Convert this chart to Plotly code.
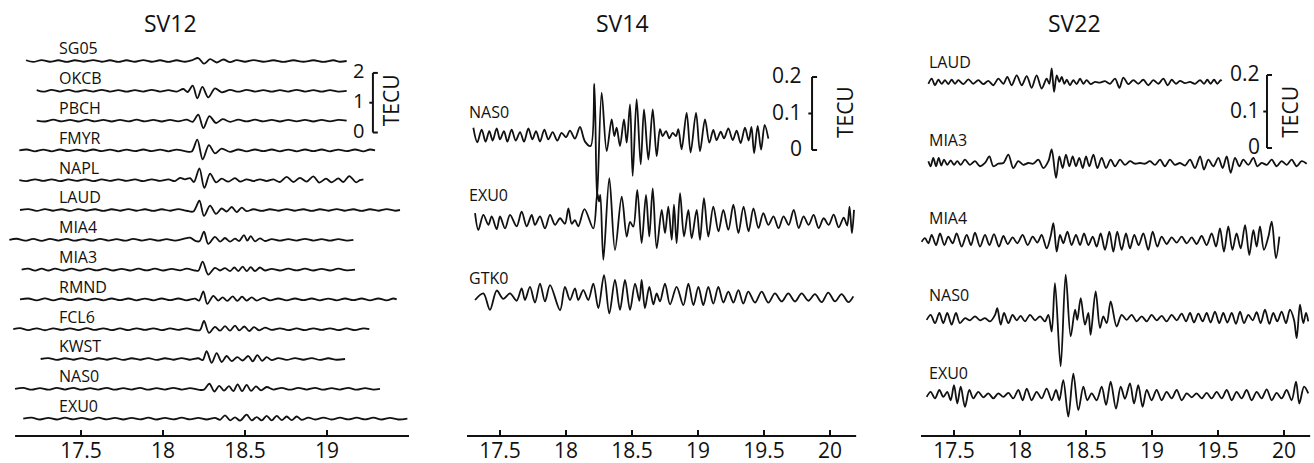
import plotly.graph_objects as go

# ---------------- SV12 : dTEC per station (TECU, relative to station baseline) ----------------
sv12_stations = ["SG05", "OKCB", "PBCH", "FMYR", "NAPL", "LAUD", "MIA4",
                 "MIA3", "RMND", "FCL6", "KWST", "NAS0", "EXU0"]

sv12_sg05_t = [17.165, 17.209, 17.260, 17.311, 17.362, 17.413, 17.463, 17.514, 17.575, 17.626,
               17.677, 17.728, 17.778, 17.829, 17.880, 17.931, 17.982, 18.033, 18.083, 18.134,
               18.175, 18.215, 18.250, 18.287, 18.327, 18.368, 18.409, 18.449, 18.500, 18.551,
               18.612, 18.673, 18.734, 18.795, 18.856, 18.917, 18.978, 19.039, 19.079, 19.120]
sv12_sg05_v = [0.025, -0.03, 0.03, -0.025, 0.025, -0.03, 0.025, -0.025, 0.03, -0.025,
               0.025, -0.03, 0.025, -0.025, 0.03, -0.025, 0.025, -0.03, 0.025, -0.025,
               0.02, 0.10, -0.09, 0.06, -0.05, 0.05, -0.04, 0.03, -0.025, 0.03,
               -0.025, 0.025, -0.03, 0.025, -0.025, 0.025, -0.03, 0.025, -0.025, 0.00]

sv12_okcb_t = [17.230, 17.270, 17.321, 17.372, 17.423, 17.474, 17.524, 17.575, 17.626, 17.677,
               17.728, 17.778, 17.829, 17.880, 17.931, 17.982, 18.033, 18.083, 18.124, 18.150,
               18.181, 18.209, 18.240, 18.276, 18.317, 18.358, 18.409, 18.459, 18.510, 18.561,
               18.612, 18.663, 18.713, 18.764, 18.815, 18.866, 18.917, 18.967, 19.018, 19.069, 19.120]
sv12_okcb_v = [0.025, -0.03, 0.03, -0.025, 0.03, -0.03, 0.025, -0.025, 0.03, -0.025,
               0.025, -0.03, 0.025, -0.025, 0.03, -0.025, 0.025, -0.025, 0.06, -0.04,
               0.17, -0.25, 0.13, -0.22, 0.08, -0.05, 0.03, -0.03, 0.03, -0.025,
               0.025, -0.03, 0.025, -0.025, 0.03, -0.025, 0.025, -0.03, 0.025, -0.025, 0.00]

sv12_pbch_t = [17.230, 17.280, 17.331, 17.382, 17.433, 17.484, 17.535, 17.585, 17.636, 17.687,
               17.738, 17.789, 17.839, 17.890, 17.941, 17.992, 18.043, 18.093, 18.144, 18.181,
               18.215, 18.246, 18.283, 18.323, 18.364, 18.409, 18.459, 18.510, 18.561, 18.612,
               18.663, 18.713, 18.764, 18.815, 18.866, 18.917, 18.967, 19.018, 19.069, 19.120]
sv12_pbch_v = [0.00, -0.03, 0.03, -0.025, 0.025, -0.03, 0.03, -0.025, 0.025, -0.03,
               0.025, -0.025, 0.03, -0.025, 0.025, -0.03, 0.025, -0.025, 0.03, -0.04,
               0.20, -0.25, 0.15, -0.08, 0.05, -0.04, 0.03, -0.025, 0.03, -0.025,
               0.025, -0.03, 0.025, -0.025, 0.025, -0.03, 0.025, -0.025, 0.025, 0.00]

sv12_fmyr_t = [17.124, 17.169, 17.220, 17.270, 17.321, 17.372, 17.423, 17.474, 17.524, 17.575,
               17.626, 17.677, 17.728, 17.778, 17.829, 17.880, 17.931, 17.982, 18.033, 18.083,
               18.134, 18.175, 18.209, 18.242, 18.280, 18.317, 18.358, 18.409, 18.459, 18.510,
               18.561, 18.612, 18.663, 18.713, 18.764, 18.815, 18.866, 18.917, 18.967, 19.018,
               19.069, 19.120, 19.171, 19.222, 19.262, 19.293]
sv12_fmyr_v = [0.00, 0.03, -0.03, 0.025, -0.03, 0.03, -0.025, 0.025, -0.03, 0.03,
               -0.025, 0.025, -0.03, 0.025, -0.025, 0.03, -0.025, 0.025, -0.03, 0.025,
               -0.025, -0.04, 0.36, -0.30, 0.18, -0.10, 0.06, -0.05, 0.03, -0.03,
               0.03, -0.025, 0.03, -0.03, 0.025, -0.03, 0.03, -0.025, 0.03, -0.03,
               0.025, -0.025, 0.03, -0.03, 0.03, 0.00]

sv12_napl_t = [17.124, 17.169, 17.220, 17.270, 17.321, 17.372, 17.423, 17.474, 17.524, 17.575,
               17.626, 17.677, 17.728, 17.778, 17.829, 17.880, 17.931, 17.982, 18.033, 18.073,
               18.104, 18.134, 18.165, 18.189, 18.222, 18.252, 18.287, 18.323, 18.358, 18.398,
               18.439, 18.470, 18.510, 18.551, 18.591, 18.632, 18.673, 18.713, 18.754, 18.795,
               18.835, 18.876, 18.917, 18.953, 18.994, 19.028, 19.069, 19.100, 19.136, 19.177,
               19.201, 19.222]
sv12_napl_v = [0.00, -0.03, 0.03, -0.025, 0.03, -0.03, 0.025, -0.025, 0.03, -0.03,
               0.025, -0.025, 0.03, -0.025, 0.025, -0.03, 0.03, -0.025, 0.025, -0.03,
               0.08, 0.03, 0.07, -0.06, 0.40, -0.26, 0.22, -0.07, 0.05, -0.05,
               0.07, -0.05, 0.03, -0.03, 0.03, -0.03, 0.03, -0.06, 0.11, -0.06,
               0.08, -0.05, 0.13, -0.08, 0.05, -0.07, 0.06, -0.06, 0.14, -0.07,
               0.00, 0.03]

sv12_laud_t = [17.128, 17.179, 17.230, 17.280, 17.331, 17.382, 17.433, 17.484, 17.535, 17.585,
               17.636, 17.687, 17.738, 17.789, 17.839, 17.890, 17.941, 17.992, 18.043, 18.093,
               18.144, 18.185, 18.222, 18.250, 18.287, 18.323, 18.358, 18.388, 18.419, 18.449,
               18.480, 18.510, 18.551, 18.602, 18.652, 18.703, 18.754, 18.805, 18.856, 18.907,
               18.957, 19.008, 19.059, 19.110, 19.161, 19.211, 19.262, 19.313, 19.364, 19.415, 19.445]
sv12_laud_v = [0.00, 0.03, -0.03, 0.03, -0.025, 0.025, -0.03, 0.03, -0.025, 0.025,
               -0.03, 0.025, -0.025, 0.03, -0.025, 0.025, -0.03, 0.025, -0.025, 0.03,
               -0.025, -0.05, 0.31, -0.20, 0.15, -0.13, 0.05, -0.05, 0.10, -0.07,
               0.08, -0.04, 0.025, -0.03, 0.025, -0.025, 0.03, -0.025, 0.025, -0.03,
               0.025, -0.025, 0.03, -0.025, 0.025, -0.03, 0.025, -0.025, 0.03, -0.025, 0.00]

sv12_mia4_t = [17.063, 17.108, 17.159, 17.209, 17.260, 17.311, 17.362, 17.413, 17.463, 17.514,
               17.565, 17.616, 17.667, 17.717, 17.768, 17.819, 17.870, 17.921, 17.972, 18.022,
               18.073, 18.124, 18.165, 18.195, 18.222, 18.250, 18.276, 18.317, 18.348, 18.378,
               18.409, 18.439, 18.465, 18.494, 18.514, 18.535, 18.561, 18.591, 18.622, 18.663,
               18.713, 18.764, 18.815, 18.866, 18.917, 18.967, 19.018, 19.069, 19.120, 19.161]
sv12_mia4_v = [0.00, 0.035, -0.03, 0.03, -0.035, 0.03, -0.025, 0.03, -0.03, 0.025,
               -0.03, 0.03, -0.025, 0.025, -0.03, 0.03, -0.025, 0.025, -0.03, 0.025,
               -0.025, 0.03, 0.07, -0.03, -0.05, 0.27, -0.14, 0.10, -0.06, 0.06,
               -0.06, 0.04, -0.04, 0.16, -0.03, 0.12, -0.05, 0.05, -0.04, 0.025,
               -0.03, 0.025, -0.025, 0.03, -0.025, 0.025, -0.03, 0.025, -0.025, 0.00]

sv12_mia3_t = [17.138, 17.179, 17.220, 17.260, 17.301, 17.341, 17.392, 17.443, 17.494, 17.545,
               17.596, 17.646, 17.697, 17.748, 17.799, 17.850, 17.900, 17.951, 18.002, 18.053,
               18.104, 18.144, 18.195, 18.215, 18.242, 18.276, 18.317, 18.348, 18.378, 18.409,
               18.435, 18.459, 18.486, 18.510, 18.535, 18.561, 18.591, 18.622, 18.663, 18.713,
               18.764, 18.815, 18.866, 18.917, 18.967, 19.018, 19.069, 19.120, 19.171]
sv12_mia3_v = [0.00, 0.03, -0.035, 0.03, -0.03, 0.035, -0.03, 0.03, -0.03, 0.03,
               -0.025, 0.03, -0.03, 0.025, -0.03, 0.03, -0.025, 0.03, -0.03, 0.025,
               -0.025, 0.03, -0.03, -0.04, 0.27, -0.17, 0.06, -0.03, 0.05, -0.05,
               0.07, -0.05, 0.10, -0.05, 0.08, -0.05, 0.07, -0.03, 0.025, -0.03,
               0.03, -0.025, 0.03, -0.03, 0.025, -0.03, 0.03, -0.025, 0.00]

sv12_rmnd_t = [17.128, 17.179, 17.230, 17.280, 17.331, 17.382, 17.433, 17.484, 17.535, 17.585,
               17.636, 17.687, 17.738, 17.789, 17.839, 17.890, 17.941, 17.992, 18.043, 18.093,
               18.144, 18.195, 18.220, 18.246, 18.270, 18.307, 18.337, 18.364, 18.392, 18.425,
               18.453, 18.482, 18.510, 18.541, 18.571, 18.612, 18.652, 18.703, 18.754, 18.805,
               18.856, 18.907, 18.957, 19.008, 19.059, 19.110, 19.161, 19.211, 19.262, 19.313,
               19.364, 19.404, 19.425]
sv12_rmnd_v = [0.00, 0.03, -0.03, 0.035, -0.03, 0.03, -0.025, 0.03, -0.03, 0.025,
               -0.03, 0.03, -0.025, 0.03, -0.03, 0.025, -0.03, 0.03, -0.025, 0.03,
               -0.03, 0.025, -0.04, 0.27, -0.15, 0.12, -0.04, 0.07, -0.05, 0.10,
               -0.05, 0.09, -0.04, 0.07, -0.04, 0.05, -0.03, 0.03, -0.03, 0.03,
               -0.025, 0.03, -0.03, 0.025, -0.03, 0.03, -0.025, 0.03, -0.03, 0.03,
               -0.03, 0.03, 0.00]

sv12_fcl6_t = [17.087, 17.128, 17.179, 17.230, 17.280, 17.331, 17.382, 17.433, 17.484, 17.535,
               17.585, 17.636, 17.687, 17.738, 17.789, 17.839, 17.890, 17.941, 17.992, 18.043,
               18.093, 18.144, 18.195, 18.226, 18.250, 18.280, 18.317, 18.348, 18.378, 18.409,
               18.439, 18.465, 18.496, 18.526, 18.555, 18.587, 18.622, 18.663, 18.713, 18.764,
               18.815, 18.866, 18.917, 18.967, 19.018, 19.069, 19.120, 19.171, 19.222, 19.258]
sv12_fcl6_v = [0.00, 0.035, -0.03, 0.03, -0.035, 0.03, -0.025, 0.03, -0.03, 0.035,
               -0.025, 0.03, -0.03, 0.025, -0.03, 0.03, -0.025, 0.03, -0.03, 0.025,
               -0.025, 0.03, -0.03, -0.03, 0.28, -0.12, 0.08, -0.05, 0.10, -0.05,
               0.12, -0.04, 0.09, -0.06, 0.07, -0.04, 0.05, -0.025, 0.03, -0.03,
               0.025, -0.03, 0.03, -0.025, 0.03, -0.03, 0.025, -0.03, 0.03, 0.00]

sv12_kwst_t = [17.254, 17.301, 17.352, 17.402, 17.453, 17.504, 17.555, 17.606, 17.657, 17.707,
               17.758, 17.809, 17.860, 17.911, 17.961, 18.012, 18.063, 18.114, 18.165, 18.215,
               18.242, 18.266, 18.297, 18.327, 18.358, 18.388, 18.419, 18.453, 18.486, 18.520,
               18.547, 18.575, 18.604, 18.632, 18.663, 18.703, 18.754, 18.805, 18.856, 18.907,
               18.957, 19.008, 19.059, 19.110]
sv12_kwst_v = [0.00, 0.03, -0.03, 0.025, -0.025, 0.03, -0.03, 0.025, -0.025, 0.03,
               -0.03, 0.025, -0.025, 0.03, -0.03, 0.025, -0.025, 0.03, -0.025, 0.025,
               -0.04, 0.26, -0.13, 0.20, -0.10, 0.10, -0.07, 0.06, -0.05, 0.10,
               -0.08, 0.13, -0.06, 0.06, -0.04, 0.03, -0.03, 0.03, -0.025, 0.03,
               -0.03, 0.025, -0.025, 0.00]

sv12_nas0_t = [17.098, 17.148, 17.199, 17.250, 17.301, 17.352, 17.402, 17.453, 17.504, 17.555,
               17.606, 17.657, 17.707, 17.758, 17.809, 17.860, 17.911, 17.961, 18.012, 18.063,
               18.114, 18.165, 18.215, 18.250, 18.283, 18.313, 18.343, 18.372, 18.402, 18.429,
               18.455, 18.482, 18.510, 18.537, 18.567, 18.598, 18.632, 18.673, 18.724, 18.774,
               18.825, 18.876, 18.927, 18.978, 19.028, 19.079, 19.130, 19.181, 19.232, 19.283, 19.323]
sv12_nas0_v = [0.00, 0.03, -0.03, 0.025, -0.03, 0.03, -0.025, 0.03, -0.03, 0.025,
               -0.025, 0.03, -0.03, 0.025, -0.025, 0.03, -0.03, 0.025, -0.025, 0.03,
               -0.025, 0.025, -0.03, -0.03, 0.17, -0.09, 0.10, -0.06, 0.09, -0.08,
               0.15, -0.08, 0.13, -0.07, 0.08, -0.05, 0.06, -0.025, 0.03, -0.03,
               0.03, -0.025, 0.03, -0.03, 0.025, -0.025, 0.03, -0.03, 0.025, -0.025, 0.00]

sv12_exu0_t = [17.148, 17.199, 17.250, 17.301, 17.352, 17.402, 17.453, 17.504, 17.555, 17.606,
               17.657, 17.707, 17.758, 17.809, 17.860, 17.911, 17.961, 18.012, 18.063, 18.114,
               18.165, 18.215, 18.266, 18.317, 18.348, 18.378, 18.409, 18.439, 18.470, 18.510,
               18.541, 18.571, 18.602, 18.632, 18.663, 18.693, 18.724, 18.754, 18.785, 18.815,
               18.846, 18.886, 18.927, 18.978, 19.028, 19.079, 19.130, 19.181, 19.232, 19.283,
               19.333, 19.384, 19.435, 19.490]
sv12_exu0_v = [0.00, 0.03, -0.03, 0.025, -0.03, 0.03, -0.025, 0.025, -0.03, 0.03,
               -0.025, 0.025, -0.03, 0.025, -0.025, 0.03, -0.03, 0.025, -0.025, 0.03,
               -0.025, 0.025, -0.03, 0.025, -0.04, 0.11, -0.06, 0.04, -0.07, 0.13,
               -0.06, 0.05, -0.06, 0.09, -0.06, 0.09, -0.05, 0.07, -0.05, 0.07,
               -0.04, 0.035, -0.03, 0.035, -0.03, 0.03, -0.025, 0.03, -0.025, 0.03,
               -0.03, 0.025, -0.03, 0.00]

# ---------------- SV14 ----------------
sv14_stations = ["NAS0", "EXU0", "GTK0"]

sv14_nas0_t = [17.298, 17.328, 17.361, 17.391, 17.419, 17.444, 17.475, 17.500, 17.530, 17.556,
               17.588, 17.619, 17.652, 17.682, 17.715, 17.745, 17.773, 17.803, 17.836, 17.866,
               17.899, 17.934, 17.967, 18.000, 18.030, 18.068, 18.106, 18.144, 18.187, 18.215,
               18.235, 18.270, 18.308, 18.346, 18.366, 18.384, 18.409, 18.439, 18.460, 18.485,
               18.505, 18.535, 18.566, 18.591, 18.624, 18.657, 18.687, 18.712, 18.732, 18.758,
               18.783, 18.808, 18.833, 18.851, 18.876, 18.914, 18.944, 18.985, 19.015, 19.053,
               19.086, 19.116, 19.141, 19.172, 19.197, 19.230, 19.263, 19.293, 19.323, 19.356,
               19.384, 19.405, 19.425, 19.452, 19.478, 19.505, 19.533]
sv14_nas0_v = [0.020, -0.020, 0.015, -0.018, 0.011, -0.015, 0.018, -0.012, 0.011, -0.018,
               0.015, -0.015, 0.008, -0.018, 0.018, -0.012, 0.011, -0.018, 0.015, -0.012,
               0.008, -0.015, 0.006, -0.006, 0.012, -0.010, 0.022, -0.018, -0.030, 0.140,
               -0.175, 0.116, -0.044, 0.043, -0.003, 0.020, -0.030, 0.043, -0.021, 0.084,
               -0.112, 0.098, -0.080, 0.070, -0.067, 0.070, -0.058, 0.016, -0.003, 0.011,
               -0.009, 0.006, -0.003, 0.016, -0.039, 0.061, -0.048, 0.061, -0.044, 0.043,
               -0.021, 0.014, -0.014, 0.009, -0.009, 0.018, -0.014, 0.012, -0.022, 0.020,
               -0.015, 0.022, -0.050, 0.025, -0.040, 0.028, -0.010]

sv14_exu0_t = [17.311, 17.336, 17.374, 17.412, 17.437, 17.475, 17.500, 17.538, 17.576, 17.626,
               17.664, 17.702, 17.740, 17.765, 17.803, 17.841, 17.879, 17.917, 17.955, 17.992,
               18.018, 18.043, 18.068, 18.093, 18.140, 18.207, 18.237, 18.250, 18.260, 18.283,
               18.328, 18.371, 18.422, 18.460, 18.485, 18.510, 18.540, 18.573, 18.606, 18.631,
               18.657, 18.687, 18.725, 18.750, 18.775, 18.801, 18.818, 18.838, 18.864, 18.894,
               18.927, 18.952, 18.990, 19.015, 19.045, 19.078, 19.116, 19.155, 19.192, 19.230,
               19.268, 19.306, 19.345, 19.383, 19.420, 19.458, 19.495, 19.533, 19.572, 19.610,
               19.648, 19.687, 19.725, 19.763, 19.800, 19.838, 19.876, 19.914, 19.952, 19.990,
               20.028, 20.066, 20.104, 20.130, 20.148, 20.166, 20.182]
sv14_exu0_v = [0.024, -0.022, 0.019, -0.008, 0.015, -0.020, 0.015, -0.018, 0.019, -0.012,
               0.028, -0.012, 0.019, -0.008, 0.015, -0.018, 0.019, -0.008, 0.010, -0.005,
               0.037, -0.005, 0.005, -0.012, 0.035, -0.018, 0.079, 0.056, 0.074, -0.104,
               0.120, -0.077, 0.069, -0.040, 0.000, -0.013, 0.088, -0.058, 0.074, -0.040,
               0.092, -0.072, 0.033, -0.031, 0.042, -0.049, 0.047, -0.058, 0.079, -0.040,
               0.033, -0.045, 0.033, -0.049, 0.065, -0.040, 0.042, -0.026, 0.033, -0.022,
               0.047, -0.031, 0.042, -0.026, 0.037, -0.017, 0.024, -0.008, 0.015, -0.017,
               0.015, -0.008, 0.033, -0.017, 0.015, -0.008, 0.019, -0.017, 0.010, -0.008,
               0.020, -0.015, 0.012, -0.010, 0.042, -0.031, 0.033]

sv14_gtk0_t = [17.311, 17.374, 17.424, 17.475, 17.525, 17.576, 17.626, 17.664, 17.689, 17.727,
               17.765, 17.803, 17.841, 17.879, 17.955, 17.992, 18.030, 18.068, 18.093, 18.131,
               18.169, 18.207, 18.245, 18.288, 18.328, 18.371, 18.409, 18.447, 18.485, 18.523,
               18.556, 18.573, 18.598, 18.631, 18.662, 18.687, 18.712, 18.750, 18.788, 18.838,
               18.889, 18.927, 18.965, 19.003, 19.040, 19.078, 19.116, 19.154, 19.192, 19.230,
               19.268, 19.306, 19.343, 19.381, 19.432, 19.482, 19.533, 19.583, 19.634, 19.684,
               19.735, 19.785, 19.836, 19.886, 19.937, 19.987, 20.038, 20.088, 20.139, 20.177]
sv14_gtk0_v = [-0.008, 0.010, -0.035, 0.018, -0.005, 0.010, -0.010, 0.024, -0.008, 0.028,
               -0.015, 0.037, -0.012, 0.033, -0.036, 0.028, -0.008, 0.024, -0.008, 0.019,
               -0.008, 0.037, -0.030, 0.060, -0.045, 0.047, -0.035, 0.047, -0.035, 0.037,
               -0.010, 0.047, -0.030, 0.028, -0.020, 0.010, -0.012, 0.037, -0.020, 0.028,
               -0.022, 0.037, -0.022, 0.028, -0.022, 0.028, -0.018, 0.028, -0.015, 0.015,
               -0.015, 0.019, -0.018, 0.015, -0.015, 0.015, -0.015, 0.010, -0.012, 0.010,
               -0.012, 0.010, -0.010, 0.008, -0.014, 0.012, -0.012, 0.008, -0.014, 0.002]

# ---------------- SV22 ----------------
sv22_stations = ["LAUD", "MIA3", "MIA4", "NAS0", "EXU0"]

sv22_laud_t = [17.306, 17.331, 17.356, 17.381, 17.407, 17.432, 17.457, 17.482, 17.508, 17.533,
               17.571, 17.609, 17.646, 17.684, 17.722, 17.760, 17.798, 17.836, 17.874, 17.904,
               17.937, 17.975, 18.013, 18.051, 18.088, 18.126, 18.164, 18.202, 18.222, 18.240,
               18.258, 18.278, 18.298, 18.316, 18.336, 18.354, 18.379, 18.404, 18.429, 18.455,
               18.480, 18.505, 18.535, 18.568, 18.606, 18.644, 18.682, 18.720, 18.753, 18.783,
               18.821, 18.859, 18.896, 18.934, 18.972, 19.010, 19.048, 19.086, 19.119, 19.149,
               19.182, 19.212, 19.250, 19.288, 19.326, 19.364, 19.394, 19.419, 19.444, 19.470,
               19.495, 19.520, 19.528]
sv22_laud_v = [-0.005, 0.009, -0.009, 0.006, -0.005, 0.005, -0.006, 0.006, -0.005, 0.005,
               -0.006, 0.007, -0.005, 0.005, -0.006, 0.003, -0.009, 0.009, -0.005, 0.014,
               -0.009, 0.018, -0.009, 0.016, -0.016, 0.018, -0.018, 0.009, -0.005, 0.037,
               -0.027, 0.018, 0.000, 0.014, -0.005, 0.006, -0.009, 0.005, -0.006, 0.009,
               -0.005, 0.005, -0.006, 0.000, -0.002, 0.002, -0.005, 0.009, -0.016, 0.012,
               -0.006, 0.005, -0.005, 0.006, -0.009, 0.005, -0.005, 0.009, -0.009, 0.006,
               -0.005, 0.003, -0.003, 0.000, -0.005, 0.005, -0.005, 0.006, -0.005, 0.006,
               -0.005, 0.005, 0.003]

sv22_mia3_t = [17.306, 17.323, 17.343, 17.364, 17.384, 17.404, 17.424, 17.449, 17.475, 17.500,
               17.525, 17.551, 17.583, 17.621, 17.659, 17.697, 17.735, 17.768, 17.798, 17.836,
               17.874, 17.912, 17.949, 17.987, 18.025, 18.063, 18.101, 18.139, 18.177, 18.215,
               18.240, 18.273, 18.298, 18.323, 18.348, 18.374, 18.399, 18.424, 18.449, 18.475,
               18.500, 18.525, 18.556, 18.586, 18.619, 18.652, 18.687, 18.720, 18.758, 18.795,
               18.833, 18.871, 18.909, 18.947, 18.985, 19.023, 19.061, 19.098, 19.136, 19.174,
               19.212, 19.250, 19.288, 19.326, 19.364, 19.394, 19.427, 19.465, 19.503, 19.535,
               19.566, 19.596, 19.629, 19.662, 19.692, 19.730, 19.768, 19.798, 19.831, 19.869,
               19.907, 19.944, 19.982, 20.020, 20.058, 20.096, 20.134, 20.172]
sv22_mia3_v = [0.005, -0.009, 0.014, -0.009, 0.014, -0.007, 0.009, -0.005, 0.007, -0.005,
               0.005, -0.005, 0.009, -0.005, 0.005, -0.009, 0.000, 0.018, -0.009, -0.002,
               0.000, 0.023, -0.014, 0.005, -0.005, 0.000, -0.002, 0.009, -0.014, 0.005,
               0.037, -0.041, 0.018, -0.014, 0.023, -0.009, 0.018, -0.009, 0.014, -0.014,
               0.018, -0.009, 0.023, -0.014, 0.014, -0.014, 0.009, -0.009, 0.009, -0.005,
               0.005, -0.002, 0.000, -0.002, 0.005, -0.005, 0.009, -0.009, 0.009, -0.005,
               0.000, -0.007, 0.009, -0.014, 0.018, -0.018, 0.009, -0.009, 0.014, -0.014,
               0.018, -0.027, 0.014, -0.009, 0.009, -0.005, 0.014, -0.009, 0.000, -0.005,
               0.009, -0.009, 0.005, -0.005, 0.009, -0.009, 0.005, -0.002]

sv22_mia4_t = [17.255, 17.280, 17.306, 17.331, 17.364, 17.394, 17.427, 17.457, 17.490, 17.520,
               17.558, 17.596, 17.629, 17.659, 17.697, 17.735, 17.768, 17.803, 17.841, 17.874,
               17.907, 17.944, 17.980, 18.020, 18.058, 18.096, 18.131, 18.164, 18.202, 18.232,
               18.253, 18.278, 18.303, 18.328, 18.359, 18.391, 18.424, 18.455, 18.485, 18.518,
               18.551, 18.581, 18.611, 18.644, 18.677, 18.707, 18.737, 18.770, 18.803, 18.833,
               18.866, 18.899, 18.934, 18.972, 19.005, 19.040, 19.073, 19.111, 19.149, 19.187,
               19.225, 19.263, 19.301, 19.338, 19.376, 19.414, 19.452, 19.485, 19.515, 19.545,
               19.578, 19.609, 19.641, 19.672, 19.705, 19.737, 19.768, 19.793, 19.818, 19.848,
               19.881, 19.907, 19.939, 19.965]
sv22_mia4_v = [-0.005, 0.005, -0.009, 0.014, -0.014, 0.018, -0.014, 0.009, -0.009, 0.018,
               -0.018, 0.014, -0.014, 0.020, -0.018, 0.014, -0.014, 0.016, -0.018, 0.011,
               -0.011, 0.007, -0.009, 0.014, -0.014, 0.009, -0.007, 0.014, -0.023, 0.010,
               0.046, -0.032, 0.014, -0.009, 0.023, -0.014, 0.014, -0.014, 0.018, -0.014,
               0.009, -0.018, 0.018, -0.027, 0.023, -0.032, 0.023, -0.027, 0.018, -0.023,
               0.014, -0.014, 0.018, -0.027, 0.023, -0.018, 0.009, -0.011, 0.007, -0.007,
               0.009, -0.009, 0.007, -0.011, 0.011, -0.014, 0.018, -0.018, 0.032, -0.032,
               0.037, -0.027, 0.018, -0.023, 0.041, -0.041, 0.027, -0.018, 0.037, -0.027,
               0.008, 0.050, -0.050, 0.009]

sv22_nas0_t = [17.293, 17.323, 17.356, 17.389, 17.419, 17.449, 17.482, 17.515, 17.545, 17.583,
               17.621, 17.659, 17.697, 17.735, 17.773, 17.811, 17.828, 17.854, 17.879, 17.912,
               17.944, 17.975, 18.005, 18.038, 18.076, 18.114, 18.152, 18.189, 18.215, 18.240,
               18.265, 18.308, 18.346, 18.384, 18.417, 18.434, 18.460, 18.492, 18.518, 18.535,
               18.573, 18.606, 18.631, 18.657, 18.687, 18.732, 18.770, 18.808, 18.846, 18.884,
               18.922, 18.960, 18.997, 19.035, 19.073, 19.111, 19.149, 19.187, 19.225, 19.258,
               19.288, 19.318, 19.351, 19.384, 19.414, 19.444, 19.477, 19.510, 19.540, 19.571,
               19.604, 19.636, 19.667, 19.697, 19.730, 19.763, 19.793, 19.823, 19.856, 19.889,
               19.919, 19.949, 19.982, 20.015, 20.045, 20.076, 20.096, 20.121, 20.146, 20.167,
               20.184]
sv22_nas0_v = [-0.005, 0.009, -0.014, 0.014, -0.014, 0.014, -0.018, 0.014, -0.014, 0.000,
               -0.006, 0.005, -0.006, 0.000, -0.009, 0.009, 0.027, -0.018, 0.014, -0.014,
               0.009, -0.006, 0.006, -0.009, 0.009, -0.006, 0.005, -0.009, 0.009, -0.037,
               0.096, -0.132, 0.119, -0.050, 0.023, -0.005, 0.055, -0.018, 0.014, -0.046,
               0.073, -0.027, 0.005, -0.014, 0.046, -0.023, 0.009, -0.005, 0.009, -0.009,
               0.005, -0.009, 0.009, -0.006, 0.006, -0.009, 0.009, -0.006, 0.012, -0.009,
               0.014, -0.012, 0.012, -0.009, 0.014, -0.012, 0.018, -0.014, 0.014, -0.012,
               0.014, -0.016, 0.018, -0.014, 0.009, -0.006, 0.016, -0.014, 0.023, -0.016,
               0.014, -0.009, 0.018, -0.014, 0.023, -0.005, -0.055, 0.037, -0.014, 0.014,
               -0.009]

sv22_exu0_t = [17.293, 17.323, 17.356, 17.389, 17.419, 17.449, 17.475, 17.500, 17.525, 17.551,
               17.583, 17.616, 17.646, 17.684, 17.722, 17.760, 17.798, 17.836, 17.874, 17.912,
               17.949, 17.987, 18.020, 18.051, 18.088, 18.126, 18.164, 18.202, 18.240, 18.273,
               18.298, 18.328, 18.366, 18.404, 18.442, 18.480, 18.510, 18.543, 18.581, 18.619,
               18.652, 18.687, 18.727, 18.763, 18.795, 18.833, 18.864, 18.896, 18.929, 18.960,
               18.997, 19.035, 19.073, 19.111, 19.149, 19.187, 19.225, 19.263, 19.301, 19.338,
               19.376, 19.414, 19.452, 19.490, 19.528, 19.566, 19.604, 19.641, 19.679, 19.717,
               19.755, 19.793, 19.831, 19.869, 19.907, 19.944, 19.982, 20.020, 20.058, 20.091,
               20.116, 20.152, 20.184]
sv22_exu0_v = [-0.005, 0.009, -0.009, 0.014, -0.005, 0.009, -0.014, 0.027, -0.023, 0.023,
               -0.032, 0.014, -0.009, 0.009, -0.006, 0.005, -0.009, 0.005, -0.005, 0.006,
               -0.009, 0.014, -0.014, 0.018, -0.014, 0.009, -0.009, 0.018, -0.014, 0.014,
               -0.014, 0.041, -0.059, 0.059, -0.041, 0.023, -0.014, 0.005, -0.014, 0.023,
               -0.027, 0.037, -0.037, 0.023, -0.010, 0.032, -0.023, 0.027, -0.032, 0.014,
               -0.014, 0.014, -0.014, 0.009, -0.009, 0.014, -0.014, 0.005, -0.006, 0.005,
               -0.009, 0.006, -0.009, 0.009, -0.009, 0.014, -0.014, 0.009, -0.009, 0.014,
               -0.014, 0.009, -0.009, 0.016, -0.014, 0.006, -0.009, 0.014, -0.014, 0.037,
               -0.023, 0.023, 0.005]

# x-axis tick labels (UT hours)
sv12_ticks = [17.5, 18, 18.5, 19]
sv14_ticks = [17.5, 18, 18.5, 19, 19.5, 20]
sv22_ticks = [17.5, 18, 18.5, 19, 19.5, 20]

# ---------------- layout constants ----------------
FONT = "Open Sans"
W, H = 1314, 463
Y_DOMAIN = [27 / H, 1.0]

panels = [
    dict(title="SV12", xa="x", ya="y", xdom=[7.2 / W, 409 / W], xr=[17.05, 19.5],
         yr=[-12.584, 2.047], axis_from=17.098, ticks=sv12_ticks, title_x=170 / W,
         stations=sv12_stations,
         series=[(sv12_sg05_t, sv12_sg05_v), (sv12_okcb_t, sv12_okcb_v), (sv12_pbch_t, sv12_pbch_v),
                 (sv12_fmyr_t, sv12_fmyr_v), (sv12_napl_t, sv12_napl_v), (sv12_laud_t, sv12_laud_v),
                 (sv12_mia4_t, sv12_mia4_v), (sv12_mia3_t, sv12_mia3_v), (sv12_rmnd_t, sv12_rmnd_v),
                 (sv12_fcl6_t, sv12_fcl6_v), (sv12_kwst_t, sv12_kwst_v), (sv12_nas0_t, sv12_nas0_v),
                 (sv12_exu0_t, sv12_exu0_v)],
         offsets=[-float(i) for i in range(13)],
         label_x=17.354, label_y=[0.42 - i for i in range(13)],
         bar=dict(x=19.280, y0=-2.4, step=1.0, labels=["0", "1", "2"], lab_x=19.236,
                  serif=0.030, tick=0.022, tecu_x=19.392, tecu_y=-1.31, lab_size=20)),
    dict(title="SV14", xa="x2", ya="y2", xdom=[467 / W, 856.4 / W], xr=[17.25, 20.2],
         yr=[-0.7836, 0.411], axis_from=17.25, ticks=sv14_ticks, title_x=622 / W,
         stations=sv14_stations,
         series=[(sv14_nas0_t, sv14_nas0_v), (sv14_exu0_t, sv14_exu0_v), (sv14_gtk0_t, sv14_gtk0_v)],
         offsets=[0.041, -0.197, -0.403],
         label_x=17.25, label_y=[0.104, -0.123, -0.352],
         bar=dict(x=19.864, y0=0.0, step=0.1, labels=["0", "0.1", "0.2"], lab_x=19.80,
                  serif=0.038, tick=0.028, tecu_x=20.114, tecu_y=0.104, lab_size=21)),
    dict(title="SV22", xa="x3", ya="y3", xdom=[921 / W, 1310.4 / W], xr=[17.25, 20.2],
         yr=[-0.789, 0.4055], axis_from=17.25, ticks=sv22_ticks, title_x=1074 / W,
         stations=sv22_stations,
         series=[(sv22_laud_t, sv22_laud_v), (sv22_mia3_t, sv22_mia3_v), (sv22_mia4_t, sv22_mia4_v),
                 (sv22_nas0_t, sv22_nas0_v), (sv22_exu0_t, sv22_exu0_v)],
         offsets=[0.181, -0.041, -0.252, -0.466, -0.677],
         label_x=17.295, label_y=[0.236, 0.022, -0.192, -0.403, -0.616],
         bar=dict(x=19.871, y0=0.0, step=0.1, labels=["0", "0.1", "0.2"], lab_x=19.83,
                  serif=0.038, tick=0.028, tecu_x=20.045, tecu_y=0.099, lab_size=21)),
]

fig = go.Figure()
shapes, annotations = [], []
layout_axes = {}
black = "#111111"

for k, p in enumerate(panels):
    sfx = "" if k == 0 else str(k + 1)
    # stacked station traces
    for (t, v), off in zip(p["series"], p["offsets"]):
        fig.add_trace(go.Scatter(
            x=t, y=[val + off for val in v], mode="lines",
            line=dict(color=black, width=1.8, shape="spline", smoothing=0.9),
            xaxis=p["xa"], yaxis=p["ya"], hoverinfo="skip", showlegend=False))
    # station names
    for name, ly in zip(p["stations"], p["label_y"]):
        annotations.append(dict(text=name, x=p["label_x"], y=ly, xref=p["xa"], yref=p["ya"],
                                xanchor="left", yanchor="middle", showarrow=False,
                                font=dict(family=FONT, size=16, color=black)))
    # panel title
    annotations.append(dict(text=p["title"], x=p["title_x"], y=1 - 23 / H, xref="paper", yref="paper",
                            xanchor="center", yanchor="middle", showarrow=False,
                            font=dict(family=FONT, size=23, color=black)))
    # time axis baseline
    shapes.append(dict(type="line", xref=p["xa"], yref=p["ya"] + " domain",
                       x0=p["axis_from"], x1=p["xr"][1], y0=0, y1=0,
                       line=dict(color=black, width=2)))
    # TECU scale bar
    b = p["bar"]
    y_top = b["y0"] + 2 * b["step"]
    ln = dict(color=black, width=2)
    shapes += [
        dict(type="line", xref=p["xa"], yref=p["ya"], x0=b["x"], x1=b["x"], y0=b["y0"], y1=y_top, line=ln),
        dict(type="line", xref=p["xa"], yref=p["ya"], x0=b["x"], x1=b["x"] + b["serif"], y0=y_top, y1=y_top, line=ln),
        dict(type="line", xref=p["xa"], yref=p["ya"], x0=b["x"], x1=b["x"] + b["serif"], y0=b["y0"], y1=b["y0"], line=ln),
        dict(type="line", xref=p["xa"], yref=p["ya"], x0=b["x"] - b["tick"], x1=b["x"],
             y0=b["y0"] + b["step"], y1=b["y0"] + b["step"], line=ln),
    ]
    for j, lab in enumerate(b["labels"]):
        annotations.append(dict(text=lab, x=b["lab_x"], y=b["y0"] + j * b["step"], xref=p["xa"], yref=p["ya"],
                                xanchor="right", yanchor="middle", yshift=2, showarrow=False,
                                font=dict(family=FONT, size=b["lab_size"], color=black)))
    annotations.append(dict(text="TECU", x=b["tecu_x"], y=b["tecu_y"], xref=p["xa"], yref=p["ya"],
                            xanchor="center", yanchor="middle", textangle=-90, showarrow=False,
                            font=dict(family=FONT, size=21, color=black)))

    layout_axes["xaxis" + sfx] = dict(
        domain=p["xdom"], range=p["xr"], anchor=p["ya"], showgrid=False, zeroline=False,
        showline=False, ticks="inside", ticklen=6, tickwidth=2, tickcolor=black,
        tickvals=p["ticks"], ticktext=[f"{t:g}" for t in p["ticks"]],
        tickfont=dict(family=FONT, size=21, color=black), fixedrange=True)
    layout_axes["yaxis" + sfx] = dict(
        domain=Y_DOMAIN, range=p["yr"], anchor=p["xa"], visible=False, fixedrange=True)

fig.update_layout(
    width=W, height=H, margin=dict(l=0, r=0, t=0, b=0),
    paper_bgcolor="white", plot_bgcolor="white",
    shapes=shapes, annotations=annotations, showlegend=False,
    font=dict(family=FONT, color=black),
    **layout_axes)

fig.write_html("out.html", config={"displayModeBar": False})
